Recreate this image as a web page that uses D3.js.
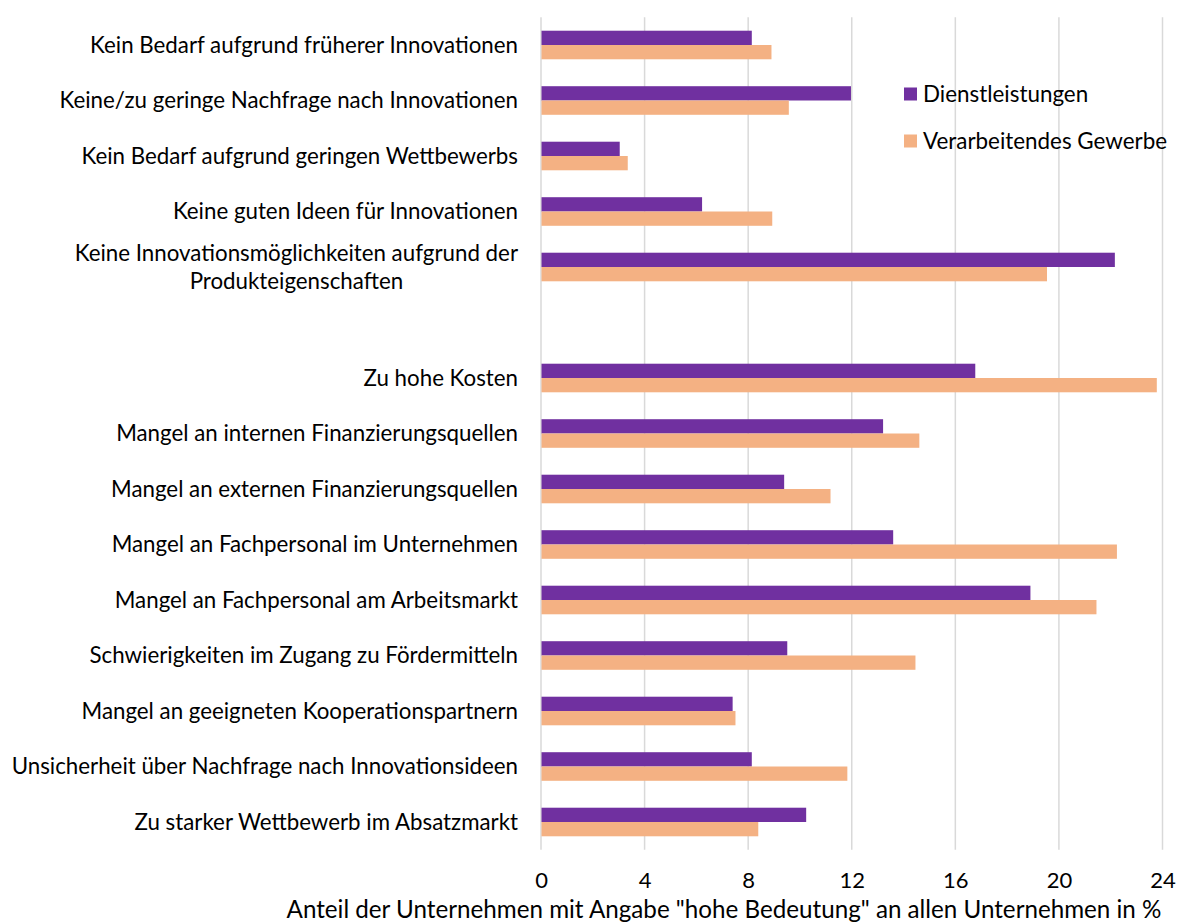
<!DOCTYPE html>
<html>
<head>
<meta charset="utf-8">
<script src="https://cdn.jsdelivr.net/npm/d3@7"></script>
<style>
  html, body { margin: 0; padding: 0; background: #ffffff; }
  svg { display: block; }
  text { font-family: Lato, "Open Sans", "Noto Sans", sans-serif; fill: #000; }
</style>
</head>
<body>
<svg id="chart" width="1190" height="922"></svg>
<script>
// ---- Data ----
const categories = [
  "Kein Bedarf aufgrund früherer Innovationen",
  "Keine/zu geringe Nachfrage nach Innovationen",
  "Kein Bedarf aufgrund geringen Wettbewerbs",
  "Keine guten Ideen für Innovationen",
  "Keine Innovationsmöglichkeiten aufgrund der|Produkteigenschaften",
  "",
  "Zu hohe Kosten",
  "Mangel an internen Finanzierungsquellen",
  "Mangel an externen Finanzierungsquellen",
  "Mangel an Fachpersonal im Unternehmen",
  "Mangel an Fachpersonal am Arbeitsmarkt",
  "Schwierigkeiten im Zugang zu Fördermitteln",
  "Mangel an geeigneten Kooperationspartnern",
  "Unsicherheit über Nachfrage nach Innovationsideen",
  "Zu starker Wettbewerb im Absatzmarkt"
];
const seriesNames = ["Dienstleistungen", "Verarbeitendes Gewerbe"];
const dienstleistungen = [8.14, 11.97, 3.04, 6.22, 22.16, null, 16.77, 13.21, 9.39, 13.6, 18.9, 9.51, 7.4, 8.14, 10.24];
const verarbeitendes   = [8.9, 9.57, 3.35, 8.93, 19.54, null, 23.78, 14.61, 11.18, 22.24, 21.45, 14.46, 7.51, 11.83, 8.39];
const xTicks = [0, 4, 8, 12, 16, 20, 24];
const xTitle = "Anteil der Unternehmen mit Angabe \"hohe Bedeutung\" an allen Unternehmen in %";
const colors = ["#7030a0", "#f4b183"];

// ---- Layout ----
const svg = d3.select("#chart");
const plotLeft = 541, plotRight = 1162.5, plotTop = 17.25, plotBottom = 849.75;
const labelFont = 22.3, tickFont = 22, titleFont = 24.2, legendFont = 22.4;

const x = d3.scaleLinear().domain([0, 24]).range([plotLeft, plotRight]);
const keys = categories.map((c, i) => "k" + i);
const y = d3.scaleBand().domain(keys).range([plotTop, plotBottom]).paddingInner(0.485).paddingOuter(0.2425);
const ySub = d3.scaleBand().domain(seriesNames).range([0, y.bandwidth()]);

// gridlines
svg.append("g")
  .selectAll("line")
  .data(xTicks)
  .join("line")
  .attr("x1", d => x(d)).attr("x2", d => x(d))
  .attr("y1", plotTop).attr("y2", plotBottom)
  .attr("stroke", "#d9d9d9").attr("stroke-width", 1.5);

// bars
const rows = categories.map((c, i) => ({ key: keys[i], vals: [dienstleistungen[i], verarbeitendes[i]] }));
const g = svg.append("g");
rows.forEach(r => {
  r.vals.forEach((v, j) => {
    if (v == null) return;
    g.append("rect")
      .attr("x", x(0) + 0.5)
      .attr("y", y(r.key) + ySub(seriesNames[j]))
      .attr("width", x(v) - x(0) - 0.5)
      .attr("height", ySub.bandwidth())
      .attr("fill", colors[j]);
  });
});

// x axis tick labels
const xAxis = d3.axisBottom(x).tickValues(xTicks).tickSize(0).tickPadding(0).tickFormat(d3.format("d"));
const xg = svg.append("g").attr("transform", `translate(0, ${plotBottom})`).call(xAxis);
xg.select(".domain").remove();
xg.selectAll("text")
  .attr("y", 31).attr("dy", "0.35em")
  .style("font-size", tickFont + "px")
  .style("font-family", "Lato, 'Open Sans', sans-serif")
  .attr("fill", "#000");

// x title
svg.append("text")
  .attr("x", (285 + 1163) / 2).attr("y", 910).attr("dy", "0.35em")
  .attr("text-anchor", "middle")
  .style("font-size", titleFont + "px")
  .text(xTitle);

// y labels
const yAxis = d3.axisLeft(y).tickSize(0).tickPadding(0).tickFormat("");
const yg = svg.append("g").attr("transform", `translate(${plotLeft},0)`).call(yAxis);
yg.select(".domain").remove();

const labelRight = 518;
const labelG = svg.append("g");
rows.forEach((r, i) => {
  const lines = categories[i].split("|").filter(s => s.length);
  if (!lines.length) return;
  const cy = y(r.key) + y.bandwidth() / 2;
  const lh = 28;
  const t = labelG.append("text")
    .attr("y", cy - (lines.length - 1) * lh / 2)
    .attr("dy", "0.35em")
    .style("font-size", labelFont + "px");
  if (lines.length === 1) {
    t.attr("x", labelRight).attr("text-anchor", "end").text(lines[0]);
  } else {
    const tmp = labelG.append("text").style("font-size", labelFont + "px").text(lines[0]);
    const w = tmp.node().getComputedTextLength();
    tmp.remove();
    const cx = labelRight - w / 2;
    t.attr("x", cx).attr("text-anchor", "middle");
    lines.forEach((ln, k) => {
      t.append("tspan").attr("x", cx).attr("dy", k === 0 ? "0.35em" : lh).text(ln);
    });
    t.attr("dy", null);
  }
});

// legend
const legend = svg.append("g");
seriesNames.forEach((s, j) => {
  const ly = 94 + j * 47;
  legend.append("rect").attr("x", 904).attr("y", ly - 6.5).attr("width", 13).attr("height", 13).attr("fill", colors[j]);
  legend.append("text").attr("x", 923).attr("y", ly).attr("dy", "0.35em").style("font-size", legendFont + "px").text(s);
});
</script>
</body>
</html>
